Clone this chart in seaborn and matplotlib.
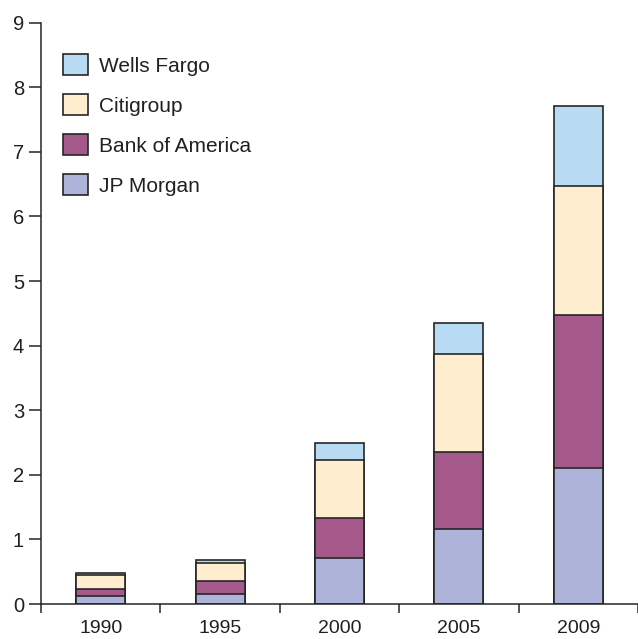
import numpy as np
import pandas as pd
import matplotlib
matplotlib.use("Agg")
import matplotlib.pyplot as plt
from matplotlib.ticker import MultipleLocator, FixedLocator
import seaborn as sns

# Data
YEARS = ["1990", "1995", "2000", "2005", "2009"]
JP_MORGAN = [0.12, 0.16, 0.71, 1.16, 2.10]
BANK_OF_AMERICA = [0.11, 0.19, 0.62, 1.19, 2.37]
CITIGROUP = [0.22, 0.28, 0.90, 1.52, 2.00]
WELLS_FARGO = [0.03, 0.05, 0.27, 0.48, 1.24]

# stacking order, bottom to top
BANKS = ["JP Morgan", "Bank of America", "Citigroup", "Wells Fargo"]
COLORS = {
    "JP Morgan": "#aeb3d9",
    "Bank of America": "#a5588a",
    "Citigroup": "#feeecf",
    "Wells Fargo": "#b8daf2",
}
EDGE = "#262626"
TEXT = "#231f20"

df = pd.DataFrame({
    "year": YEARS,
    "JP Morgan": JP_MORGAN,
    "Bank of America": BANK_OF_AMERICA,
    "Citigroup": CITIGROUP,
    "Wells Fargo": WELLS_FARGO,
})
# cumulative tops for each segment
cum = df[BANKS].cumsum(axis=1)
cum["year"] = df["year"]

sns.set_style("white")
plt.rcParams["font.family"] = ["Liberation Sans", "DejaVu Sans"]

fig = plt.figure(figsize=(6.38, 6.39), dpi=100)
ax = fig.add_axes([41 / 638, 35 / 639, 1 - 41 / 638, (604 - 22.7) / 639])

# draw tallest cumulative bar first, smaller ones on top of it
for bank in reversed(BANKS):
    sns.barplot(data=cum, x="year", y=bank, color=COLORS[bank], saturation=1,
                edgecolor=EDGE, linewidth=1.2, width=0.41, label=bank, ax=ax)

ax.set_xlim(-0.5, len(YEARS) - 0.5)
ax.set_ylim(0, 9)
ax.set_xlabel("")
ax.set_ylabel("")
ax.yaxis.set_major_locator(MultipleLocator(1))

for side in ["top", "right"]:
    ax.spines[side].set_visible(False)
for side in ["left", "bottom"]:
    ax.spines[side].set_linewidth(1.1)
    ax.spines[side].set_color(EDGE)

# tick marks between categories, labels centred under bars
ax.xaxis.set_minor_locator(FixedLocator(np.arange(-0.5, len(YEARS), 1.0)))
ax.tick_params(axis="x", which="major", length=0, pad=11.5, labelsize=14, labelcolor=TEXT)
ax.tick_params(axis="x", which="minor", length=6.5, width=1.1, color=EDGE, direction="out", bottom=True)
ax.tick_params(axis="y", which="major", length=8.6, width=1.1, color=EDGE, direction="out",
               pad=3.6, labelsize=14.5, labelcolor=TEXT, left=True)

leg = ax.legend(loc="upper left", bbox_to_anchor=(63 / 638, 1 - 54 / 639),
                bbox_transform=fig.transFigure, frameon=False, fontsize=15,
                handlelength=1.2, handleheight=1.2, handletextpad=0.55,
                labelspacing=0.88, borderpad=0, borderaxespad=0)
for t in leg.get_texts():
    t.set_color(TEXT)

fig.savefig("out.png", dpi=100)
